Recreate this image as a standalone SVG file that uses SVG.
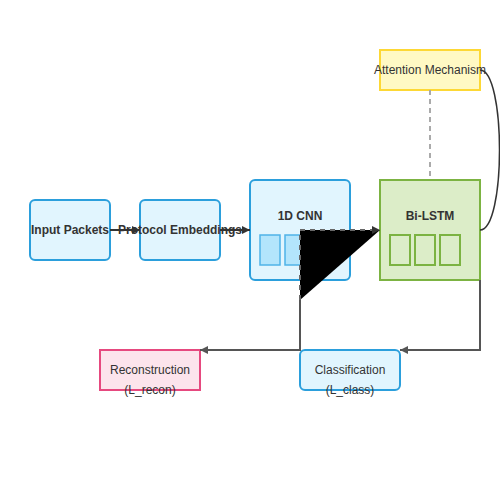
<svg xmlns="http://www.w3.org/2000/svg" width="500" height="500" viewBox="0 0 500 500">
<defs>
<marker id="arr" viewBox="0 0 8 8" refX="8" refY="4" markerWidth="8" markerHeight="8" markerUnits="userSpaceOnUse" orient="auto"><path d="M0,0 L8,4 L0,8 z" fill="#333"/></marker>
<marker id="arr2" viewBox="0 0 8 8" refX="8" refY="4" markerWidth="8" markerHeight="8" markerUnits="userSpaceOnUse" orient="auto"><path d="M0,0 L8,4 L0,8 z" fill="#555"/></marker>
<style>
text{font-family:"Liberation Sans",Arial,sans-serif;font-size:12px;fill:#333;text-anchor:middle}
.b{font-weight:bold}
.blue{fill:#e1f5fe;stroke:#2b9fdc;stroke-width:2}
.cell{fill:#b3e5fc;stroke:#4fb3e8;stroke-width:1.5}
.gcell{fill:none;stroke:#7cb342;stroke-width:2}
.c{stroke:#333;stroke-width:2;fill:none}
.c2{stroke:#555;stroke-width:2;fill:none}
</style>
</defs>
<rect width="500" height="500" fill="#fff"/>
<g id="input">
<rect class="blue" x="30" y="200" width="80" height="60" rx="5"/>
<text class="b" x="70" y="234">Input Packets</text>
</g>
<g id="embed">
<rect class="blue" x="140" y="200" width="80" height="60" rx="5"/>
<text class="b" x="180" y="234">Protocol Embeddings</text>
</g>
<g id="cnn">
<rect class="blue" x="250" y="180" width="100" height="100" rx="5"/>
<text class="b" x="300" y="220">1D CNN</text>
<rect class="cell" x="260" y="235" width="20" height="30"/>
<rect class="cell" x="285" y="235" width="20" height="30"/>
<rect class="cell" x="310" y="235" width="20" height="30"/>
</g>
<g id="lstm">
<rect x="380" y="180" width="100" height="100" fill="#dcedc8" stroke="#7cb342" stroke-width="2"/>
<text class="b" x="430" y="220">Bi-LSTM</text>
<rect class="gcell" x="390" y="235" width="20" height="30"/>
<rect class="gcell" x="415" y="235" width="20" height="30"/>
<rect class="gcell" x="440" y="235" width="20" height="30"/>
</g>
<g id="attention">
<rect x="380" y="50" width="100" height="40" fill="#fff9c4" stroke="#fdd835" stroke-width="2"/>
<text x="430" y="74">Attention Mechanism</text>
</g>
<g id="recon">
<rect x="100" y="350" width="100" height="40" fill="#fce4ec" stroke="#e6497f" stroke-width="2"/>
<text x="150" y="374">Reconstruction</text>
<text x="150" y="394">(L_recon)</text>
</g>
<g id="class">
<rect class="blue" x="300" y="350" width="100" height="40" rx="5"/>
<text x="350" y="374">Classification</text>
<text x="350" y="394">(L_class)</text>
</g>
<g id="connectors">
<path class="c" d="M110,230 L140,230" marker-end="url(#arr)"/>
<path class="c" d="M220,230 L250,230" marker-end="url(#arr)"/>
<path d="M300,300 L300,230 L380,230" fill="#000" stroke="#666" stroke-width="2" stroke-dasharray="5,5" marker-end="url(#arr)"/>
<path d="M430,90 L430,180" stroke="#aaa" stroke-width="2" stroke-dasharray="5,4" fill="none"/>
<path d="M480,70 C506,70 506,230 480,230" stroke="#333" stroke-width="1.5" fill="none"/>
<path class="c2" d="M480,280 L480,350 L400,350" marker-end="url(#arr2)"/>
<path class="c2" d="M300,300 L300,350 L200,350" marker-end="url(#arr2)"/>
</g>
</svg>
